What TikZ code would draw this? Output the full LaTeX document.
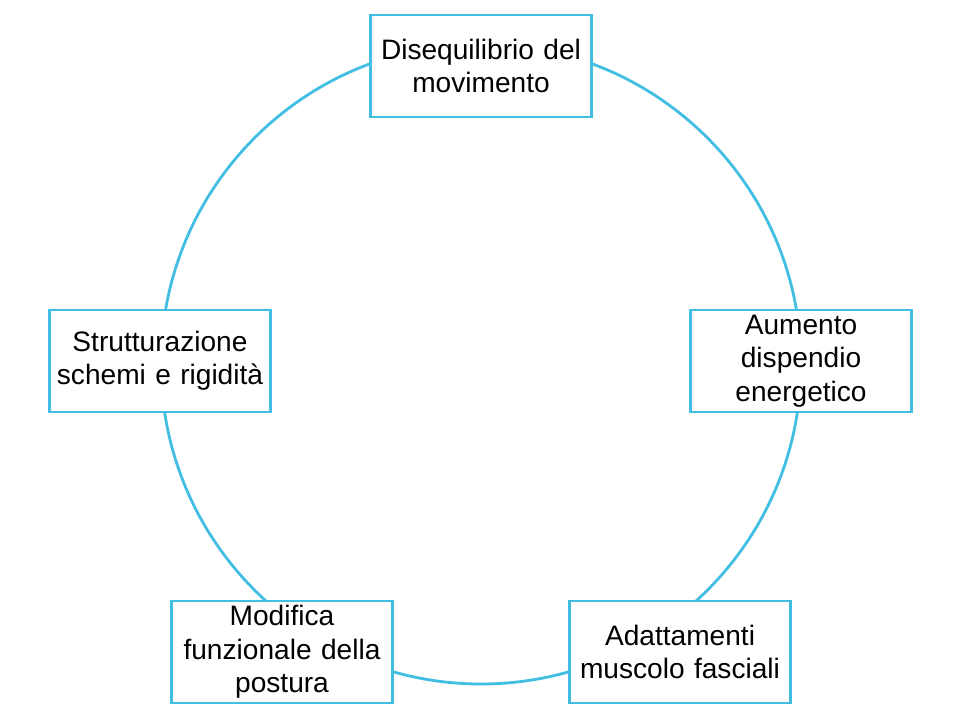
\documentclass[tikz,border=0pt]{standalone}
\usepackage{xcolor}
\usepackage{tikz}
\usepackage{fontspec}
\setmainfont{Liberation Sans}
\definecolor{cycleblue}{RGB}{66, 190, 226}

\begin{document}
\begin{tikzpicture}[
    x=0.02cm, y=-0.02cm,
    stage/.style={rectangle, draw=cycleblue, fill=white, line width=1.6pt,
                 minimum width=4.42cm, minimum height=2.04cm, text width=4.3cm,
                 align=center, inner sep=0pt,
                 font=\fontsize{16}{19}\selectfont},
    ring/.style={cycleblue, line width=1.6pt}
]
    \useasboundingbox (0,0) rectangle (962,722);

    % Cycle
    \draw[ring] (481,364) circle[radius=320];

    % Stages
    \node[stage] (diseq) at (481,66) {Disequilibrio del\\movimento};
    \node[stage] (dispendio) at (801,361) {Aumento\\dispendio\\energetico};
    \node[stage] (adatt) at (680,652) {Adattamenti\\muscolo fasciali};
    \node[stage] (postura) at (282,652) {Modifica\\funzionale della\\postura};
    \node[stage] (rigid) at (160,361) {Strutturazione\\schemi e rigidità};
\end{tikzpicture}
\end{document}
